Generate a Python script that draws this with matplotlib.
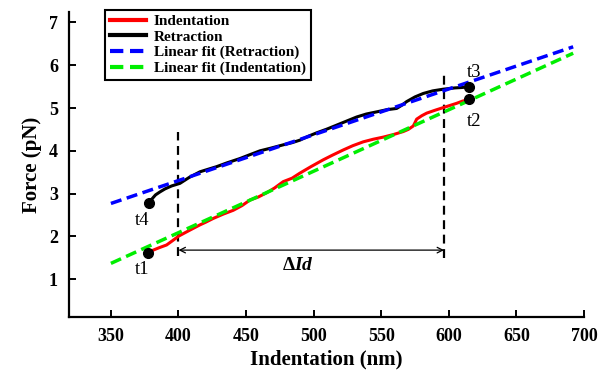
import numpy as np
import matplotlib
matplotlib.use('Agg')
import matplotlib.pyplot as plt

plt.rcParams['font.family'] = 'Liberation Serif'
plt.rcParams['mathtext.fontset'] = 'custom'
plt.rcParams['mathtext.rm'] = 'Liberation Serif:bold'
plt.rcParams['mathtext.it'] = 'Liberation Serif:italic:bold'

# Retraction curve (black), t4 -> t3
ret_x = [378.3, 380.5, 383.0, 386.3, 390.0, 395.0, 401.1, 408.0, 415.9, 422.0, 428.2, 436.0,
         445.5, 452.0, 460.3, 468.0, 477.5, 484.0, 489.9, 496.0, 502.2, 510.0, 517.0, 524.0,
         531.8, 539.0, 546.6, 554.0, 561.4, 565.0, 568.8, 575.0, 581.1, 588.0, 595.9, 604.6,
         610.0, 615.1]
ret_y = [2.77, 2.88, 2.97, 3.04, 3.11, 3.18, 3.24, 3.38, 3.51, 3.57, 3.63, 3.72,
         3.82, 3.90, 4.00, 4.06, 4.14, 4.19, 4.25, 4.34, 4.42, 4.51, 4.60, 4.69,
         4.79, 4.86, 4.91, 4.96, 4.99, 5.06, 5.15, 5.26, 5.34, 5.40, 5.44, 5.47,
         5.48, 5.50]

# Indentation curve (red), t1 -> t2
ind_x = [377.6, 381.3, 386.0, 391.2, 396.0, 400.3, 408.0, 415.9, 420.0, 425.7, 433.0, 440.5,
         447.0, 452.9, 459.0, 465.2, 471.0, 477.5, 484.0, 489.9, 498.0, 507.1, 514.0, 521.9,
         529.0, 536.7, 544.0, 551.5, 559.0, 566.3, 570.0, 573.7, 575.0, 576.2, 580.0, 583.6,
         590.0, 595.9, 605.8, 610.0, 615.1]
ind_y = [1.61, 1.68, 1.74, 1.80, 1.91, 2.01, 2.14, 2.27, 2.33, 2.42, 2.52, 2.61,
         2.72, 2.85, 2.92, 3.02, 3.13, 3.28, 3.36, 3.48, 3.63, 3.79, 3.90, 4.02,
         4.12, 4.21, 4.27, 4.32, 4.38, 4.45, 4.50, 4.58, 4.66, 4.74, 4.82, 4.88,
         4.95, 5.01, 5.11, 5.16, 5.20]

# linear fits
fit_x = [350, 692]
fit_ret = [2.77, 6.43]
fit_ind = [1.37, 6.28]

# markers
pt_x = [377.6, 615.1, 615.1, 378.3]
pt_y = [1.61, 5.20, 5.50, 2.77]
pt_lbl = ['t1', 't2', 't3', 't4']
lbl_x = [373, 619, 619, 373]
lbl_y = [1.22, 4.68, 5.83, 2.38]

# delta Id markers
vline_x = [400, 596.5]
vline_lo = [1.55, 1.50]
vline_hi = [4.45, 5.82]
arrow_y = 1.68

fig = plt.figure(figsize=(6.08, 3.73), dpi=100)
ax = fig.add_axes([0.1135, 0.1493, 0.847, 0.8193])

ax.plot(ind_x, ind_y, color='red', lw=2.2, label='Indentation', zorder=3)
ax.plot(ret_x, ret_y, color='black', lw=2.2, label='Retraction', zorder=3)
ax.plot(fit_x, fit_ret, color='blue', lw=2.5, ls=(0, (3.2, 1.6)), label='Linear fit (Retraction)', zorder=4)
ax.plot(fit_x, fit_ind, color='#00ee00', lw=2.5, ls=(0, (3.2, 1.6)), label='Linear fit (Indentation)', zorder=4)

ax.plot(pt_x, pt_y, 'o', color='black', ms=7, zorder=5)
for lx, ly, t in zip(lbl_x, lbl_y, pt_lbl):
    ax.text(lx, ly, t, fontsize=13.5, ha='center', va='center')

for vx, lo, hi in zip(vline_x, vline_lo, vline_hi):
    ax.plot([vx, vx], [lo, hi], color='black', lw=1.6, ls=(0, (4, 2.5)), zorder=2)

ax.annotate('', xy=(vline_x[0], arrow_y), xytext=(vline_x[1], arrow_y),
            arrowprops=dict(arrowstyle='<->', color='black', lw=0.9, shrinkA=0, shrinkB=0))
ax.text(488, 1.33, r'$\Delta\mathit{Id}$', fontsize=14, ha='center', va='center')

ax.set_xlim(319, 700)
ax.set_ylim(0.11, 7.25)
ax.set_xticks(np.arange(350, 701, 50))
ax.set_yticks(np.arange(1, 8, 1))
ax.spines['top'].set_visible(False)
ax.spines['right'].set_visible(False)
ax.spines['left'].set_linewidth(1.6)
ax.spines['bottom'].set_linewidth(1.6)
ax.tick_params(direction='in', length=5, width=1.4, labelsize=13, pad=8)
for lab in ax.get_xticklabels() + ax.get_yticklabels():
    lab.set_fontweight('bold')

ax.set_xlabel('Indentation (nm)', fontsize=15, fontweight='bold', labelpad=3)
ax.set_ylabel('Force (pN)', fontsize=15, fontweight='bold', labelpad=5)

leg = ax.legend(loc='upper left', bbox_to_anchor=(0.07, 1.006), borderaxespad=0,
                prop={'weight': 'bold', 'size': 11}, fancybox=False, edgecolor='black',
                framealpha=1, handlelength=2.4, labelspacing=0.12, borderpad=0.3,
                handletextpad=0.5)
leg.get_frame().set_linewidth(1.5)
for h in leg.get_lines():
    h.set_linewidth(3)

fig.savefig('out.png', dpi=100)
